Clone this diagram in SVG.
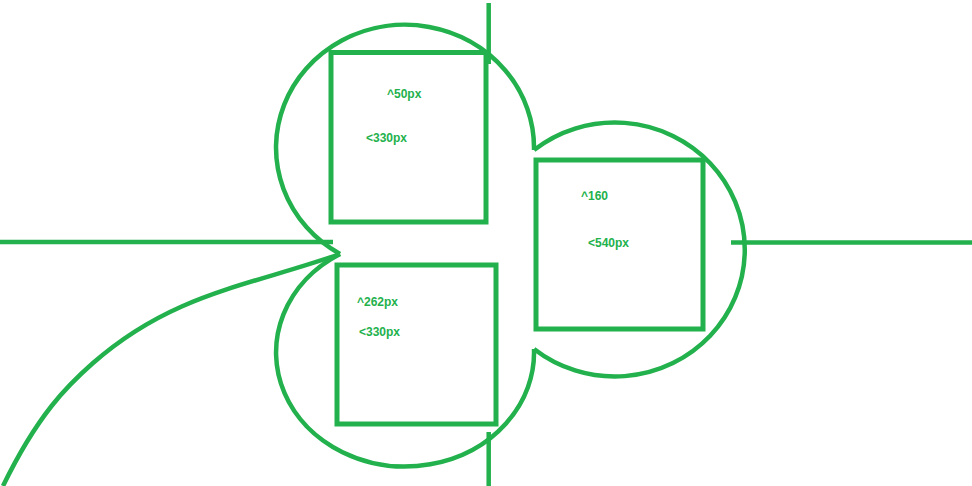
<svg xmlns="http://www.w3.org/2000/svg" width="972" height="486" viewBox="0 0 972 486">
<style>
.s{fill:none;stroke:#22b14c;stroke-width:4.5;stroke-linejoin:miter}
.b{fill:none;stroke:#22b14c;stroke-width:5}
.t{fill:#22b14c;font-family:"Liberation Sans",Arial,sans-serif;font-size:12px;font-weight:bold}
</style>
<rect width="972" height="486" fill="#fff"/>
<g id="connectors">
<path class="s" d="M0,242 H333"/>
<path class="s" d="M731,242.5 H972"/>
<path class="s" d="M488.7,3 V64"/>
<path class="s" d="M488.7,432 V486"/>
<path class="s" d="M3,486 C38,414 68,385 93,363 C173,293 248,286.5 340,254"/>
<path class="s" d="M340,254 A129 123 0 1 1 534,150"/>
<path class="s" d="M534,150 A130 127 0 1 1 534,349"/>
<path class="s" d="M534,349 A129 114 0 1 1 340,254"/>
</g>
<g id="box1">
<rect class="b" x="331" y="52.5" width="155" height="169.5"/>
<text class="t" x="387" y="98">^50px</text>
<text class="t" x="366" y="142">&lt;330px</text>
</g>
<g id="box2">
<rect class="b" x="337" y="265" width="159" height="159"/>
<text class="t" x="357" y="306">^262px</text>
<text class="t" x="359" y="336">&lt;330px</text>
</g>
<g id="box3">
<rect class="b" x="536" y="160" width="167" height="169"/>
<text class="t" x="581" y="200">^160</text>
<text class="t" x="588" y="247">&lt;540px</text>
</g>
</svg>
